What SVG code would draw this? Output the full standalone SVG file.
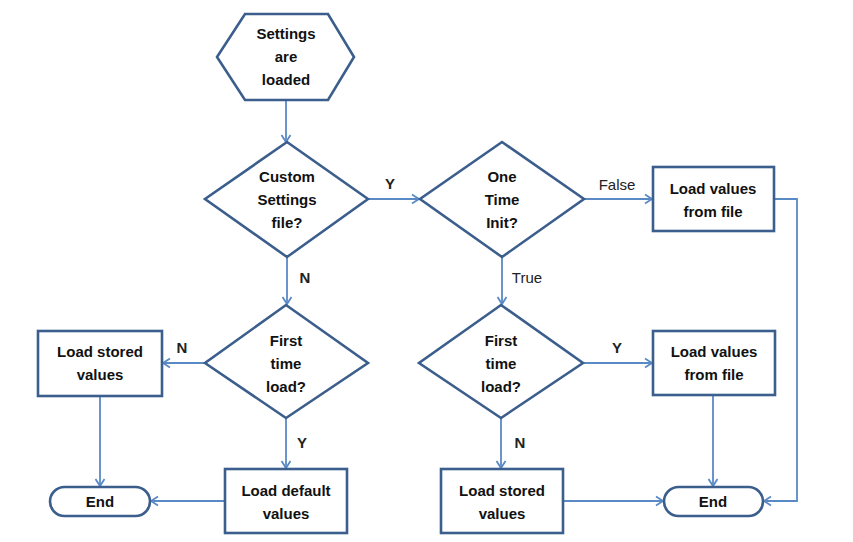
<svg xmlns="http://www.w3.org/2000/svg" width="853" height="542" viewBox="0 0 853 542">
<defs>
<style>
.n{fill:#fff;stroke:#3B5E8C;stroke-width:2.6;stroke-linejoin:miter}
.t{font-family:"Liberation Sans",Arial,sans-serif;font-weight:bold;font-size:15px;fill:#111;text-anchor:middle}
.l{font-family:"Liberation Sans",Arial,sans-serif;font-size:15px;fill:#222;text-anchor:middle}
.lb{font-weight:bold}
.c{fill:none;stroke:#5A8AC6;stroke-width:1.8}
</style>
<marker id="a" markerWidth="12" markerHeight="12" refX="9" refY="6" orient="auto" markerUnits="userSpaceOnUse">
<path d="M2,1.5 L9,6 L2,10.5" fill="none" stroke="#5A8AC6" stroke-width="1.8"/>
</marker>
</defs>
<rect width="853" height="542" fill="#fff"/>
<g id="connectors">
<path class="c" d="M286,100 V142" marker-end="url(#a)"/>
<path class="c" d="M368,199 H419" marker-end="url(#a)"/>
<path class="c" d="M584,199 H652" marker-end="url(#a)"/>
<path class="c" d="M774,199 H797 V501 H764" marker-end="url(#a)"/>
<path class="c" d="M287,257 V304" marker-end="url(#a)"/>
<path class="c" d="M502,257 V304" marker-end="url(#a)"/>
<path class="c" d="M205,363 H163" marker-end="url(#a)"/>
<path class="c" d="M100,396 V486" marker-end="url(#a)"/>
<path class="c" d="M286,418 V468" marker-end="url(#a)"/>
<path class="c" d="M225,501 H151" marker-end="url(#a)"/>
<path class="c" d="M583,363 H652" marker-end="url(#a)"/>
<path class="c" d="M713,395 V486" marker-end="url(#a)"/>
<path class="c" d="M501,418 V468" marker-end="url(#a)"/>
<path class="c" d="M563,501 H663" marker-end="url(#a)"/>
<text class="l lb" x="390" y="189">Y</text>
<text class="l" x="617" y="190">False</text>
<text class="l lb" x="305" y="283">N</text>
<text class="l" x="527" y="283">True</text>
<text class="l lb" x="182" y="353">N</text>
<text class="l lb" x="617" y="353">Y</text>
<text class="l lb" x="302" y="448">Y</text>
<text class="l lb" x="520" y="448">N</text>
</g>
<g id="start">
<polygon class="n" points="245,14 328,14 354,57 328,100 245,100 217,57"/>
<text class="t" x="286" y="39">Settings</text>
<text class="t" x="286" y="62">are</text>
<text class="t" x="286" y="85">loaded</text>
</g>
<g id="custom">
<polygon class="n" points="287,142 368,199 287,257 205,199"/>
<text class="t" x="287" y="182">Custom</text>
<text class="t" x="287" y="205">Settings</text>
<text class="t" x="287" y="228">file?</text>
</g>
<g id="onetime">
<polygon class="n" points="502,142 584,199 502,257 420,199"/>
<text class="t" x="502" y="182">One</text>
<text class="t" x="502" y="205">Time</text>
<text class="t" x="502" y="228">Init?</text>
</g>
<g id="loadfile1">
<rect class="n" x="653" y="167" width="121" height="64"/>
<text class="t" x="713" y="194">Load values</text>
<text class="t" x="713" y="217">from file</text>
</g>
<g id="first1">
<polygon class="n" points="286,305 368,363 286,418 205,363"/>
<text class="t" x="286" y="346">First</text>
<text class="t" x="286" y="369">time</text>
<text class="t" x="286" y="392">load?</text>
</g>
<g id="first2">
<polygon class="n" points="501,305 583,363 501,418 419,363"/>
<text class="t" x="501" y="346">First</text>
<text class="t" x="501" y="369">time</text>
<text class="t" x="501" y="392">load?</text>
</g>
<g id="stored1">
<rect class="n" x="38" y="331" width="124" height="65"/>
<text class="t" x="100" y="357">Load stored</text>
<text class="t" x="100" y="380">values</text>
</g>
<g id="loadfile2">
<rect class="n" x="653" y="331" width="122" height="64"/>
<text class="t" x="714" y="357">Load values</text>
<text class="t" x="714" y="380">from file</text>
</g>
<g id="default">
<rect class="n" x="225" y="469" width="122" height="64"/>
<text class="t" x="286" y="496">Load default</text>
<text class="t" x="286" y="519">values</text>
</g>
<g id="stored2">
<rect class="n" x="441" y="469" width="122" height="64"/>
<text class="t" x="502" y="496">Load stored</text>
<text class="t" x="502" y="519">values</text>
</g>
<g id="end1">
<rect class="n" x="50" y="487" width="100" height="29" rx="14.5"/>
<text class="t" x="100" y="507">End</text>
</g>
<g id="end2">
<rect class="n" x="664" y="487" width="99" height="29" rx="14.5"/>
<text class="t" x="713" y="507">End</text>
</g>
</svg>
